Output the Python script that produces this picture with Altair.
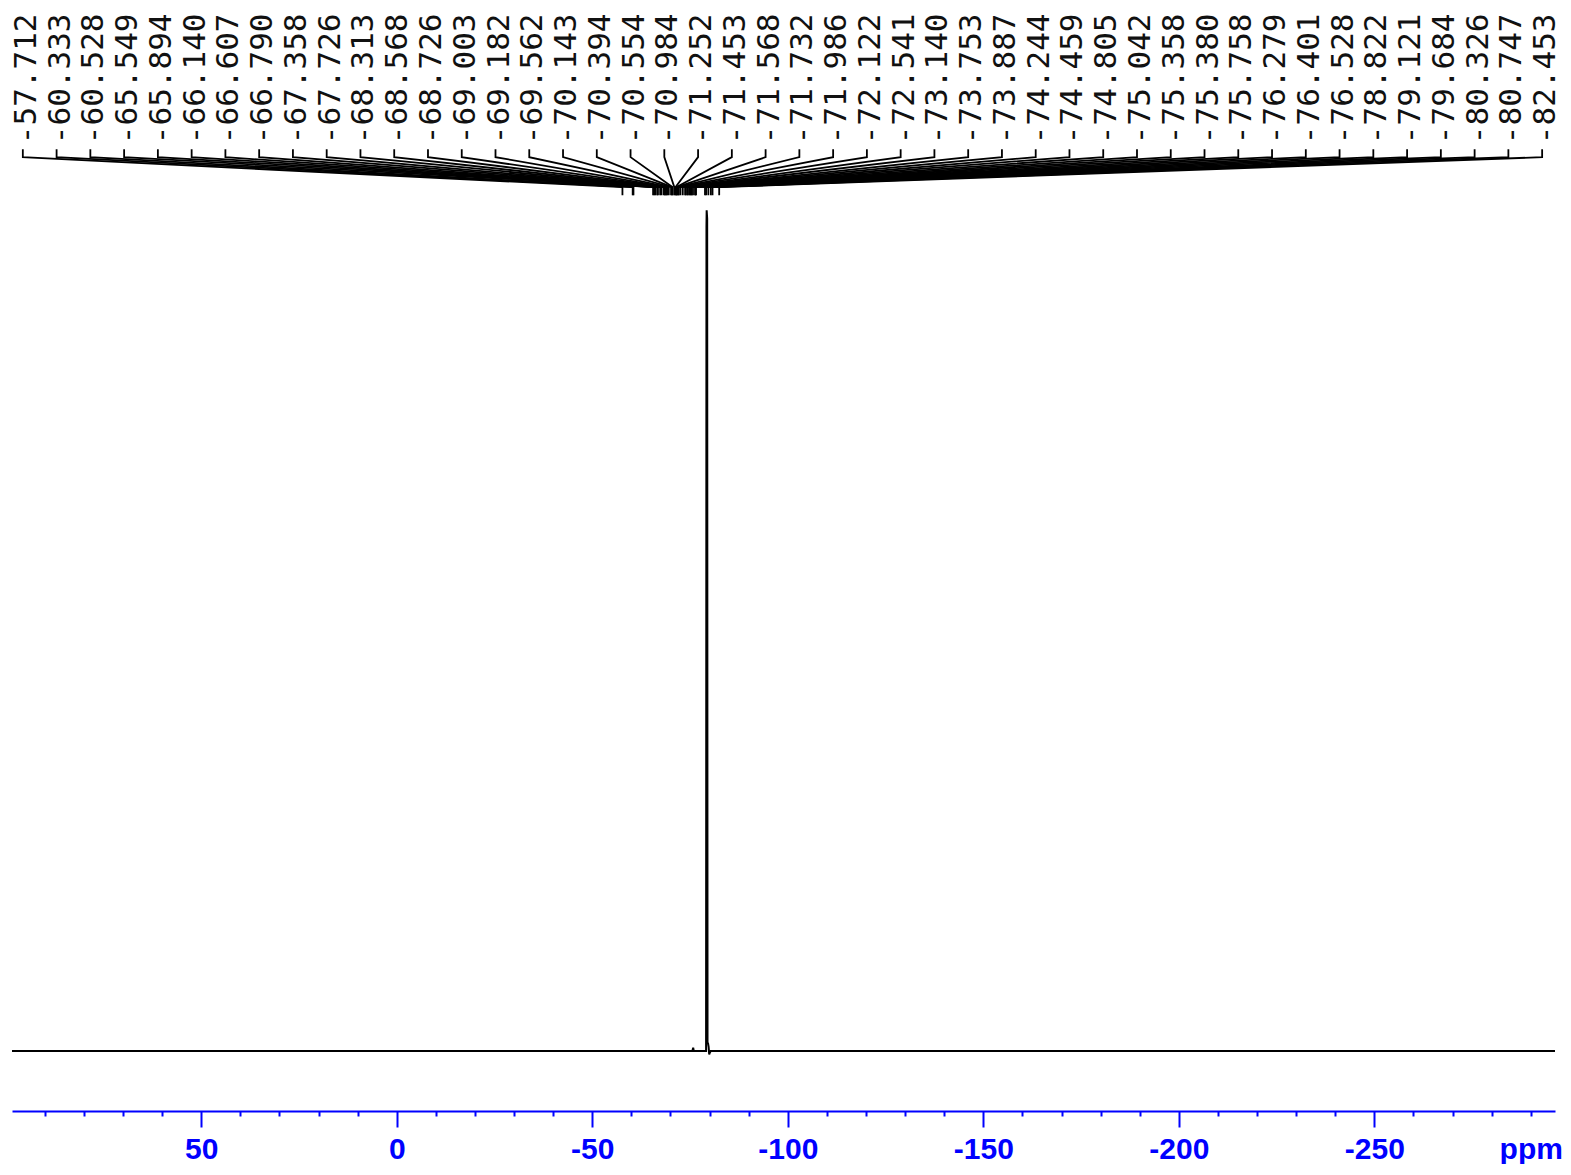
import altair as alt
import pandas as pd

# ---- data ----
peak_ppm = [-57.712, -60.333, -60.528, -65.549, -65.894, -66.140, -66.607, -66.790,
            -67.358, -67.726, -68.313, -68.568, -68.726, -69.003, -69.182, -69.562,
            -70.143, -70.394, -70.554, -70.984, -71.252, -71.453, -71.568, -71.732,
            -71.986, -72.122, -72.541, -73.140, -73.753, -73.887, -74.244, -74.459,
            -74.805, -75.042, -75.358, -75.380, -75.758, -76.279, -76.401, -76.528,
            -78.822, -79.121, -79.684, -80.326, -80.747, -82.453]

spec_ppm = [98.4, -75.6, -75.8, -75.95, -79.1, -79.2, -79.25, -79.38, -79.47,
            -79.6, -79.75, -79.9, -80.05, -80.3, -296.2]
spec_int = [0.0, 0.0, 0.004, 0.0, 0.0, 0.98, 1.0, 0.99, 0.01,
            0.009, 0.005, -0.004, -0.002, 0.0, 0.0]

axis_values = list(range(90, -300, -10))

# ---- layout constants ----
REF_LEFT = 99.39          # ppm at page x = 8 in the reference
PX_PER_PPM = 3.91
X_LEFT, X_RIGHT = 98.4, -296.2
TOTAL_W, TOTAL_H = 1555, 1156
Y_BOT, Y_TOP = -0.0714, 1.2405
PX_PER_INT = 840.0


def px_to_ppm(px):
    return REF_LEFT - (px - 8) / PX_PER_PPM


def py_to_int(py):
    return (1050 - py) / PX_PER_INT


label_rows, conn_rows = [], []
for i, p in enumerate(peak_ppm):
    cx = 26.7 + i * 33.76
    label_rows.append({"x": px_to_ppm(cx), "y": py_to_int(144), "t": f"{p:.3f}"})
    lx = px_to_ppm(cx - 4)
    pts = [(lx, py_to_int(149)), (lx, py_to_int(157)),
           (p, py_to_int(187)), (p, py_to_int(195))]
    for j, (xx, yy) in enumerate(pts):
        conn_rows.append({"id": i, "o": j, "x": xx, "y": yy})

spec_df = pd.DataFrame({"x": spec_ppm, "y": spec_int, "o": range(len(spec_ppm))})
label_df = pd.DataFrame(label_rows)
conn_df = pd.DataFrame(conn_rows)

xscale = alt.Scale(domain=[X_RIGHT, X_LEFT], reverse=True, nice=False, zero=False)
yscale = alt.Scale(domain=[Y_BOT, Y_TOP], nice=False, zero=False)

xaxis = alt.Axis(
    values=axis_values, title=None, grid=False,
    domainColor="#0000ff", domainWidth=2,
    tickColor="#0000ff", tickWidth=2,
    tickSize={"condition": {"test": "datum.value % 50 === 0", "value": 16}, "value": 5},
    labelColor="#0000ff", labelFont="Liberation Sans", labelFontWeight="bold",
    labelFontSize=30,
    labelPadding={"condition": {"test": "datum.value == -290", "value": 18}, "value": 7},
    labelFlush=False, labelOverlap=False,
    labelExpr="datum.value == -290 ? 'ppm' : (datum.value % 50 == 0 ? '' + datum.value : '')",
)

spec = alt.Chart(spec_df).mark_line(color="black", strokeWidth=2).encode(
    x=alt.X("x:Q", scale=xscale, axis=xaxis),
    y=alt.Y("y:Q", scale=yscale, axis=None),
    order="o:Q",
)

conn = alt.Chart(conn_df).mark_line(color="black", strokeWidth=1.8).encode(
    x=alt.X("x:Q", scale=xscale, axis=xaxis),
    y=alt.Y("y:Q", scale=yscale, axis=None),
    detail="id:N",
    order="o:Q",
)

labels = alt.Chart(label_df).mark_text(
    angle=270, align="left", baseline="middle",
    font="DejaVu Sans Mono", fontSize=31, color="#111111",
).encode(
    x=alt.X("x:Q", scale=xscale, axis=xaxis),
    y=alt.Y("y:Q", scale=yscale, axis=None),
    text="t:N",
)

chart = alt.layer(spec, conn, labels).properties(
    width=TOTAL_W, height=TOTAL_H,
    padding={"left": 0, "top": 0, "right": 0, "bottom": 0},
    autosize=alt.AutoSizeParams(type="fit", contains="padding"),
).configure_view(stroke=None)

chart.save("out.html", embed_options={"renderer": "svg", "actions": False})
